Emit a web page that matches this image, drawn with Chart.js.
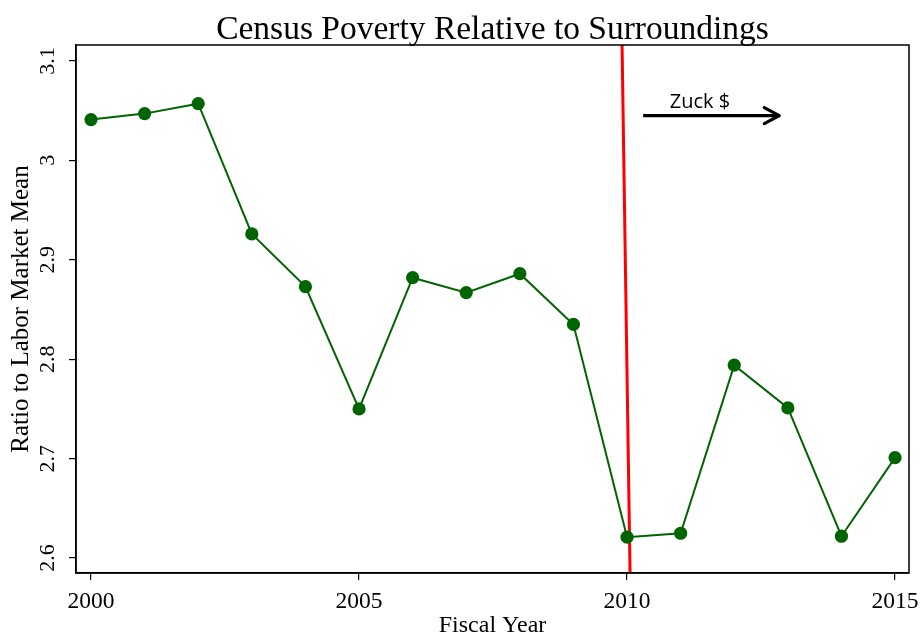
<!DOCTYPE html>
<html>
<head>
<meta charset="utf-8">
<script src="https://cdn.jsdelivr.net/npm/chart.js@4/dist/chart.umd.min.js"></script>
<style>
  html, body { margin: 0; padding: 0; background: #fff; }
  #wrap { width: 922px; height: 639px; }
</style>
</head>
<body>
<div id="wrap"><canvas id="myChart"></canvas></div>
<script>
// datos
const years = [2000, 2001, 2002, 2003, 2004, 2005, 2006, 2007, 2008, 2009, 2010, 2011, 2012, 2013, 2014, 2015]
const ratios = [3.041, 3.047, 3.057, 2.926, 2.873, 2.750, 2.882, 2.867, 2.886, 2.835, 2.621, 2.625, 2.794, 2.751, 2.622, 2.701]
const xTicks = [2000, 2005, 2010, 2015]
const yTicks = [2.6, 2.7, 2.8, 2.9, 3.0, 3.1]
const yLimits = [2.585, 3.116]
const xLimits = [1999.72, 2015.26]
// linea roja (ligeramente inclinada) y flecha "Zuck $"
const redLineX = [2009.907, 2010.056]
const arrowX = [2010.30, 2012.84]
const arrowY = 3.045
const arrowLabel = 'Zuck $'
const arrowLabelPos = [2011.36, 3.058]
const titulo = 'Census Poverty Relative to Surroundings'

const serif = "'Liberation Serif', 'Times New Roman', serif"

const puntos = years.map((y, i) => ({ x: y, y: ratios[i] }))

// titulo centrado sobre el area del grafico, marco completo, flecha y texto
const extras = {
    id: 'extras',
    afterDraw(chart) {
        const { ctx, chartArea } = chart
        ctx.save()
        ctx.fillStyle = '#000'
        ctx.font = '33.5px ' + serif
        ctx.textAlign = 'center'
        ctx.textBaseline = 'alphabetic'
        ctx.fillText(titulo, (chartArea.left + chartArea.right) / 2, 39)
        ctx.restore()
    },
    afterDatasetsDraw(chart) {
        const { ctx, chartArea, scales } = chart
        ctx.save()
        ctx.strokeStyle = '#000'
        ctx.lineWidth = 1.5
        ctx.strokeRect(chartArea.left, chartArea.top, chartArea.right - chartArea.left, chartArea.bottom - chartArea.top)

        // punta de flecha
        let px = scales.x.getPixelForValue(arrowX[1])
        let py = scales.y.getPixelForValue(arrowY)
        ctx.lineWidth = 3.2
        ctx.lineCap = 'round'
        ctx.lineJoin = 'round'
        ctx.beginPath()
        ctx.moveTo(px - 15, py - 8)
        ctx.lineTo(px, py)
        ctx.lineTo(px - 15, py + 8)
        ctx.stroke()

        ctx.fillStyle = '#000'
        ctx.font = "20px 'Open Sans', 'Liberation Sans', sans-serif"
        ctx.textAlign = 'center'
        ctx.textBaseline = 'middle'
        ctx.fillText(arrowLabel, scales.x.getPixelForValue(arrowLabelPos[0]), scales.y.getPixelForValue(arrowLabelPos[1]))
        ctx.restore()
    }
}

const ctx = document.getElementById('myChart')

const myChart = new Chart(ctx, {
    type: 'line',
    data: {
        datasets: [
            {
                label: 'Ratio',
                data: puntos,
                borderColor: '#006400',
                backgroundColor: '#006400',
                borderWidth: 2,
                pointRadius: 6.6,
                pointHoverRadius: 6.6,
                pointBorderWidth: 0,
                tension: 0
            },
            {
                label: 'Zuck',
                data: [{ x: redLineX[0], y: yLimits[1] }, { x: redLineX[1], y: yLimits[0] }],
                borderColor: '#ff0000',
                borderWidth: 3,
                pointRadius: 0
            },
            {
                label: 'Flecha',
                data: [{ x: arrowX[0], y: arrowY }, { x: arrowX[1], y: arrowY }],
                borderColor: '#000',
                borderWidth: 3.2,
                pointRadius: 0
            }
        ]
    },
    options: {
        responsive: true,
        maintainAspectRatio: false,
        animation: false,
        layout: { padding: { left: 0, right: 13, top: 45, bottom: 0 } },
        plugins: {
            legend: { display: false },
            tooltip: { enabled: false },
            title: { display: false }
        },
        scales: {
            x: {
                type: 'linear',
                min: xLimits[0],
                max: xLimits[1],
                afterBuildTicks: (scale) => { scale.ticks = xTicks.map(v => ({ value: v })) },
                afterFit: (scale) => {
                    scale.height = 66
                    scale.paddingLeft = 0
                    scale.paddingRight = 0
                },
                grid: { drawOnChartArea: false, drawTicks: true, tickLength: 7, color: '#000', lineWidth: 1.2 },
                border: { color: '#000', width: 1.5 },
                ticks: {
                    color: '#000',
                    font: { family: serif, size: 23.5 },
                    padding: 8,
                    maxRotation: 0,
                    autoSkip: false,
                    callback: (v) => String(v)
                },
                title: {
                    display: true,
                    text: 'Fiscal Year',
                    color: '#000',
                    font: { family: serif, size: 24, lineHeight: 1.1 },
                    padding: { top: 0, bottom: 0 }
                }
            },
            y: {
                type: 'linear',
                min: yLimits[0],
                max: yLimits[1],
                afterBuildTicks: (scale) => { scale.ticks = yTicks.map(v => ({ value: v })) },
                afterFit: (scale) => {
                    scale.width = 76
                    scale.paddingTop = 0
                    scale.paddingBottom = 0
                },
                grid: { drawOnChartArea: false, drawTicks: true, tickLength: 7, color: '#000', lineWidth: 1.2 },
                border: { color: '#000', width: 1.5 },
                ticks: {
                    color: '#000',
                    font: { family: serif, size: 22 },
                    padding: 7,
                    minRotation: 90,
                    maxRotation: 90,
                    crossAlign: 'center',
                    autoSkip: false,
                    callback: (v) => (Math.round(v * 10) / 10).toString()
                },
                title: {
                    display: true,
                    text: 'Ratio to Labor Market Mean',
                    color: '#000',
                    font: { family: serif, size: 25, lineHeight: 1.1 },
                    padding: { top: 8, bottom: 0 }
                }
            }
        }
    },
    plugins: [extras]
})
</script>
</body>
</html>
